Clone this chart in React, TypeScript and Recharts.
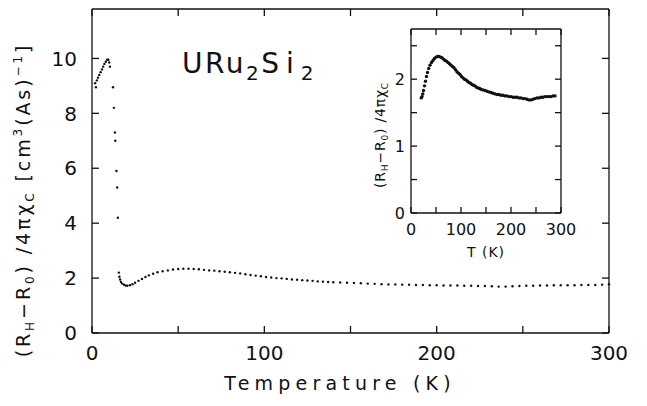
import { Scatter, ScatterChart, XAxis, YAxis } from 'recharts';

// main curve: temperature (K) and (R_H - R_0)/4πχ_C
const mainTemp = [
  1.8, 2.3, 2.8, 3.5, 4.2, 5, 5.8, 6.5, 7.2, 8, 8.8, 9.5, 10, 10.4,
  12.2, 12.7, 13.3, 13.5, 14.2, 14.6, 15,
  15.6, 15.9, 16.3, 16.8, 17.5, 18.5, 19.5, 20.5, 22, 23.5, 25, 27, 29, 31, 33, 35.5, 38, 41, 44, 47,
  50, 53, 56, 59, 62, 65, 68, 71, 74, 77, 80, 83, 86, 89, 92, 95, 98,
  101, 104, 107, 110, 113, 116, 119, 122, 125, 128, 131, 134, 137, 140, 144, 148,
  152, 156, 160, 164, 168, 172, 176, 180, 184, 188, 192, 196, 200,
  204, 208, 212, 216, 220, 224, 228, 232, 236, 240, 244, 248,
  252, 256, 260, 264, 268, 272, 276, 280, 284, 288, 292, 296, 300,
];
const mainValue = [
  9.1, 8.95, 9.2, 9.3, 9.4, 9.5, 9.6, 9.7, 9.8, 9.88, 9.95, 9.95, 9.85, 9.7,
  8.95, 8.2, 7.3, 7.0, 5.9, 5.3, 4.2,
  2.2, 2.05, 1.95, 1.86, 1.8, 1.76, 1.73, 1.72, 1.74, 1.78, 1.83, 1.9, 1.97, 2.04, 2.1, 2.16, 2.21, 2.25, 2.28, 2.31,
  2.33, 2.34, 2.34, 2.33, 2.32, 2.3, 2.28, 2.27, 2.25, 2.23, 2.21, 2.19, 2.17, 2.14, 2.11, 2.09, 2.07,
  2.04, 2.02, 2.0, 1.99, 1.97, 1.95, 1.94, 1.92, 1.91, 1.9, 1.88, 1.87, 1.86, 1.85, 1.84, 1.83,
  1.82, 1.81, 1.8, 1.79, 1.78, 1.77, 1.77, 1.76, 1.76, 1.75, 1.75, 1.74, 1.74,
  1.73, 1.73, 1.73, 1.72, 1.72, 1.71, 1.71, 1.7, 1.69, 1.69, 1.7, 1.71,
  1.72, 1.72, 1.73, 1.73, 1.74, 1.74, 1.74, 1.74, 1.75, 1.75, 1.75, 1.76, 1.78,
];

// the inset replots the same measurement from 20 K to 290 K
const insetRange = [20, 290];

const mainXTicks = [0, 50, 100, 150, 200, 250, 300];
const mainYTicks = [0, 2, 4, 6, 8, 10];
const insetXTicks = [0, 50, 100, 150, 200, 250, 300];
const insetYTicks = [0, 0.5, 1, 1.5, 2, 2.5];

const mainData = mainTemp.map((t, i) => ({ t, v: mainValue[i] }));
const insetData = mainData.filter((d) => d.t >= insetRange[0] && d.t <= insetRange[1]);

const INK = '#111';
const FONT = '"DejaVu Sans", sans-serif';

// tick lines are drawn by recharts (negative tickSize = pointing inward), these only write the labels
const BottomLabel = ({ x, y, payload, major, size, gap }: any) =>
  payload.value % major === 0 ? (
    <text x={x} y={y + gap} textAnchor="middle" fontSize={size} fontFamily={FONT} fill={INK}>
      {payload.value}
    </text>
  ) : (
    <g />
  );

const LeftLabel = ({ x, y, payload, major, size, gap }: any) =>
  Math.abs(payload.value % major) < 1e-6 ? (
    <text x={x - gap} y={y} dy="0.36em" textAnchor="end" fontSize={size} fontFamily={FONT} fill={INK}>
      {payload.value}
    </text>
  ) : (
    <g />
  );

const NoLabel = () => <g />;

const dot = (r: number) => (p: any) => <circle cx={p.cx} cy={p.cy} r={r} fill={INK} />;
const none = () => <g />;

const axisLine = { stroke: INK, strokeWidth: 1.3 };
const tickLine = { stroke: INK, strokeWidth: 1.3 };

function MainChart() {
  return (
    <ScatterChart width={647} height={406} margin={{ top: 8, right: 37, bottom: 0, left: 0 }}>
      <XAxis
        xAxisId="b"
        dataKey="t"
        type="number"
        domain={[0, 300]}
        ticks={mainXTicks}
        interval={0}
        height={73}
        tickSize={-7}
        tickMargin={7}
        axisLine={axisLine}
        tickLine={tickLine}
        tick={<BottomLabel major={100} size={20} gap={27} />}
      />
      <XAxis
        xAxisId="t"
        orientation="top"
        dataKey="t"
        type="number"
        domain={[0, 300]}
        ticks={mainXTicks}
        interval={0}
        height={1}
        tickSize={-7}
        tickMargin={0}
        axisLine={axisLine}
        tickLine={tickLine}
        tick={<NoLabel />}
      />
      <YAxis
        yAxisId="l"
        dataKey="v"
        type="number"
        domain={[0, 11.8]}
        ticks={mainYTicks}
        interval={0}
        width={92}
        tickSize={-7}
        tickMargin={7}
        axisLine={axisLine}
        tickLine={tickLine}
        tick={<LeftLabel major={2} size={20} gap={15} />}
      />
      <YAxis
        yAxisId="r"
        orientation="right"
        dataKey="v"
        type="number"
        domain={[0, 11.8]}
        ticks={mainYTicks}
        interval={0}
        width={1}
        tickSize={-7}
        tickMargin={0}
        axisLine={axisLine}
        tickLine={tickLine}
        tick={<NoLabel />}
      />
      <Scatter data={mainData} xAxisId="b" yAxisId="l" shape={dot(1.2)} isAnimationActive={false} />
      <Scatter data={mainData} xAxisId="t" yAxisId="r" shape={none} isAnimationActive={false} />
    </ScatterChart>
  );
}

function InsetChart() {
  return (
    <ScatterChart width={220} height={240} margin={{ top: 8, right: 28, bottom: 0, left: 0 }}>
      <XAxis
        xAxisId="b"
        dataKey="t"
        type="number"
        domain={[0, 300]}
        ticks={insetXTicks}
        interval={0}
        height={47}
        tickSize={-6}
        tickMargin={6}
        axisLine={axisLine}
        tickLine={tickLine}
        tick={<BottomLabel major={100} size={16} gap={22} />}
      />
      <XAxis
        xAxisId="t"
        orientation="top"
        dataKey="t"
        type="number"
        domain={[0, 300]}
        ticks={insetXTicks}
        interval={0}
        height={1}
        tickSize={-6}
        tickMargin={0}
        axisLine={axisLine}
        tickLine={tickLine}
        tick={<NoLabel />}
      />
      <YAxis
        yAxisId="l"
        dataKey="v"
        type="number"
        domain={[0, 2.75]}
        ticks={insetYTicks}
        interval={0}
        width={41}
        tickSize={-6}
        tickMargin={6}
        axisLine={axisLine}
        tickLine={tickLine}
        tick={<LeftLabel major={1} size={16} gap={6} />}
      />
      <YAxis
        yAxisId="r"
        orientation="right"
        dataKey="v"
        type="number"
        domain={[0, 2.75]}
        ticks={insetYTicks}
        interval={0}
        width={1}
        tickSize={-6}
        tickMargin={0}
        axisLine={axisLine}
        tickLine={tickLine}
        tick={<NoLabel />}
      />
      <Scatter data={insetData} xAxisId="b" yAxisId="l" shape={dot(1.7)} isAnimationActive={false} />
      <Scatter data={insetData} xAxisId="t" yAxisId="r" shape={none} isAnimationActive={false} />
    </ScatterChart>
  );
}

export default function App() {
  return (
    <div style={{ position: 'absolute', left: 0, top: 0, width: 647, height: 406, background: '#fff' }}>
      <MainChart />
      <div style={{ position: 'absolute', left: 370, top: 20, width: 220, height: 240 }}>
        <InsetChart />
      </div>
      <svg width={647} height={406} style={{ position: 'absolute', left: 0, top: 0, pointerEvents: 'none' }}>
        <g fontFamily={FONT} fill={INK}>
          <text x={182} y={73} fontSize={28} letterSpacing={2.5}>
            URu<tspan fontSize={20} dy={7}>2</tspan>
            <tspan dy={-7} letterSpacing={7}>Si</tspan>
            <tspan fontSize={20} dy={7}>2</tspan>
          </text>
          <text x={340} y={390} fontSize={19} textAnchor="middle" letterSpacing={5.2}>
            Temperature (K)
          </text>
          <text transform="translate(30,200) rotate(-90)" fontSize={19} textAnchor="middle" letterSpacing={2.9}>
            (R<tspan fontSize={12} dy={4}>H</tspan>
            <tspan dy={-4}>−R</tspan>
            <tspan fontSize={12} dy={4}>0</tspan>
            <tspan dy={-4}>) /4πχ</tspan>
            <tspan fontSize={12} dy={4}>C</tspan>
            <tspan dy={-4}>  [cm</tspan>
            <tspan fontSize={12} dy={-8}>3</tspan>
            <tspan dy={8}>(As)</tspan>
            <tspan fontSize={12} dy={-8}>−1</tspan>
            <tspan dy={8}>]</tspan>
          </text>
          <text x={486} y={257} fontSize={14} textAnchor="middle" letterSpacing={1}>
            T (K)
          </text>
          <text transform="translate(385,135) rotate(-90)" fontSize={14} textAnchor="middle" letterSpacing={0.8}>
            (R<tspan fontSize={9} dy={3}>H</tspan>
            <tspan dy={-3}>−R</tspan>
            <tspan fontSize={9} dy={3}>0</tspan>
            <tspan dy={-3}>) /4πχ</tspan>
            <tspan fontSize={9} dy={3}>C</tspan>
          </text>
        </g>
      </svg>
    </div>
  );
}
